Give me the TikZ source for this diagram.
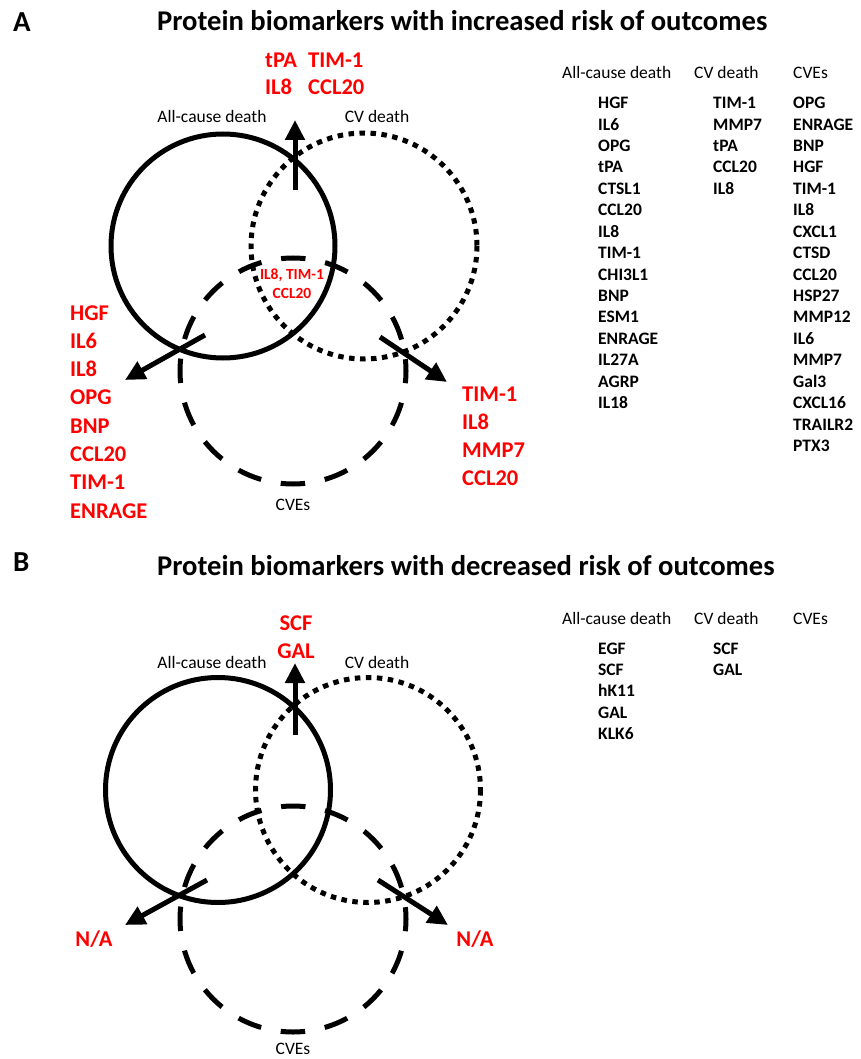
\documentclass[tikz,border=0pt]{standalone}
\usepackage{fontspec}
\setmainfont{Carlito}
\usetikzlibrary{arrows.meta}
\begin{document}
\begin{tikzpicture}[x=1pt,y=-1pt,
  solidc/.style={draw=black,line width=5pt},
  dottedc/.style={draw=black,line width=5pt,dash pattern=on 5.5pt off 5.5pt},
  dashedc/.style={draw=black,line width=5pt,dash pattern=on 24.4pt off 20pt,dash phase=12.2pt},
  arr/.style={draw=black,line width=5pt,-{Triangle[length=20pt,width=19pt]}},
  panel/.style={font=\fontsize{29}{32}\selectfont\bfseries,inner sep=0pt,anchor=base west},
  ttl/.style={font=\fontsize{28.6}{32}\selectfont\bfseries,inner sep=0pt,anchor=base west},
  circlab/.style={font=\fontsize{17.5}{20}\selectfont,inner sep=0pt,anchor=base},
  redb/.style={text=red,font=\fontsize{22.5}{26}\selectfont\bfseries,inner sep=0pt,anchor=base west},
  redc/.style={text=red,font=\fontsize{22.5}{26}\selectfont\bfseries,inner sep=0pt,anchor=base},
  redsmall/.style={text=red,font=\fontsize{15.5}{18}\selectfont\bfseries,inner sep=0pt,anchor=base},
  hdr/.style={font=\fontsize{17.5}{20}\selectfont,inner sep=0pt,anchor=base west},
  itm/.style={font=\fontsize{17.5}{20}\selectfont\bfseries,inner sep=0pt,anchor=base west}]
\useasboundingbox (0,0) rectangle (860,1059);
\fill[white] (0,0) rectangle (860,1059);

% ================= Panel A =================
\node[panel] (pA) at (13,32) {A};
\node[ttl] (tA) at (157,31) {Protein biomarkers with increased risk of outcomes};

\draw[solidc]  (223,246) circle[radius=112];
\draw[dottedc] (364,246) circle[radius=113];
\draw[dashedc] (293,371) circle[radius=113];

\node[circlab] (acA) at (212,123) {All-cause death};
\node[circlab] (cvA) at (377,123) {CV death};
\node[circlab] (ceA) at (293,510) {CVEs};

\coordinate (aTs) at (295,190); \coordinate (aTe) at (295,120);
\coordinate (aLs) at (205,335); \coordinate (aLe) at (125,380);
\coordinate (aRs) at (380,337); \coordinate (aRe) at (447,382);
\draw[arr] (aTs) -- (aTe);
\draw[arr] (aLs) -- (aLe);
\draw[arr] (aRs) -- (aRe);

\node[redb] (rt1) at (265,68) {tPA};
\node[redb] (rt2) at (308,68) {TIM-1};
\node[redb] (rt3) at (265,95) {IL8};
\node[redb] (rt4) at (308,95) {CCL20};

\node[redsmall] (rc1) at (292,279) {IL8, TIM-1};
\node[redsmall] (rc2) at (292,298) {CCL20};

\foreach \t [count=\i from 0] in {HGF,IL6,IL8,OPG,BNP,CCL20,TIM-1,ENRAGE}
  \node[redb] (rl\i) at (70,320+28.3*\i) {\t};
\foreach \t [count=\i from 0] in {TIM-1,IL8,MMP7,CCL20}
  \node[redb] (rr\i) at (462,401+28.3*\i) {\t};

\node[hdr] (hA1) at (562,79) {All-cause death};
\node[hdr] (hA2) at (694,79) {CV death};
\node[hdr] (hA3) at (793,79) {CVEs};
\foreach \t [count=\i from 0] in {HGF,IL6,OPG,tPA,CTSL1,CCL20,IL8,TIM-1,CHI3L1,BNP,ESM1,ENRAGE,IL27A,AGRP,IL18}
  \node[itm] (la\i) at (598,108.6+21.43*\i) {\t};
\foreach \t [count=\i from 0] in {TIM-1,MMP7,tPA,CCL20,IL8}
  \node[itm] (lb\i) at (713,108.6+21.43*\i) {\t};
\foreach \t [count=\i from 0] in {OPG,ENRAGE,BNP,HGF,TIM-1,IL8,CXCL1,CTSD,CCL20,HSP27,MMP12,IL6,MMP7,Gal3,CXCL16,TRAILR2,PTX3}
  \node[itm] (lc\i) at (793,108.6+21.43*\i) {\t};

% ================= Panel B =================
\node[panel] (pB) at (13,571) {B};
\node[ttl] (tB) at (157,575) {Protein biomarkers with decreased risk of outcomes};

\draw[solidc]  (218,790) circle[radius=112.5];
\draw[dottedc] (368,790) circle[radius=112.5];
\draw[dashedc] (293,919) circle[radius=113];

\node[circlab] (acB) at (212,668) {All-cause death};
\node[circlab] (cvB) at (377,668) {CV death};
\node[circlab] (ceB) at (293,1054) {CVEs};

\coordinate (bTs) at (295,735); \coordinate (bTe) at (295,663);
\coordinate (bLs) at (207,880); \coordinate (bLe) at (125,925);
\coordinate (bRs) at (378,880); \coordinate (bRe) at (448,925);
\draw[arr] (bTs) -- (bTe);
\draw[arr] (bLs) -- (bLe);
\draw[arr] (bRs) -- (bRe);

\node[redc] (sB1) at (296,630) {SCF};
\node[redc] (sB2) at (296,658) {GAL};
\node[redc] (naL) at (94,946) {N/A};
\node[redc] (naR) at (475,946) {N/A};

\node[hdr] (hB1) at (562,624) {All-cause death};
\node[hdr] (hB2) at (694,624) {CV death};
\node[hdr] (hB3) at (793,624) {CVEs};
\foreach \t [count=\i from 0] in {EGF,SCF,hK11,GAL,KLK6}
  \node[itm] (ma\i) at (598,654+21.43*\i) {\t};
\foreach \t [count=\i from 0] in {SCF,GAL}
  \node[itm] (mb\i) at (713,654+21.43*\i) {\t};
\end{tikzpicture}
\end{document}
